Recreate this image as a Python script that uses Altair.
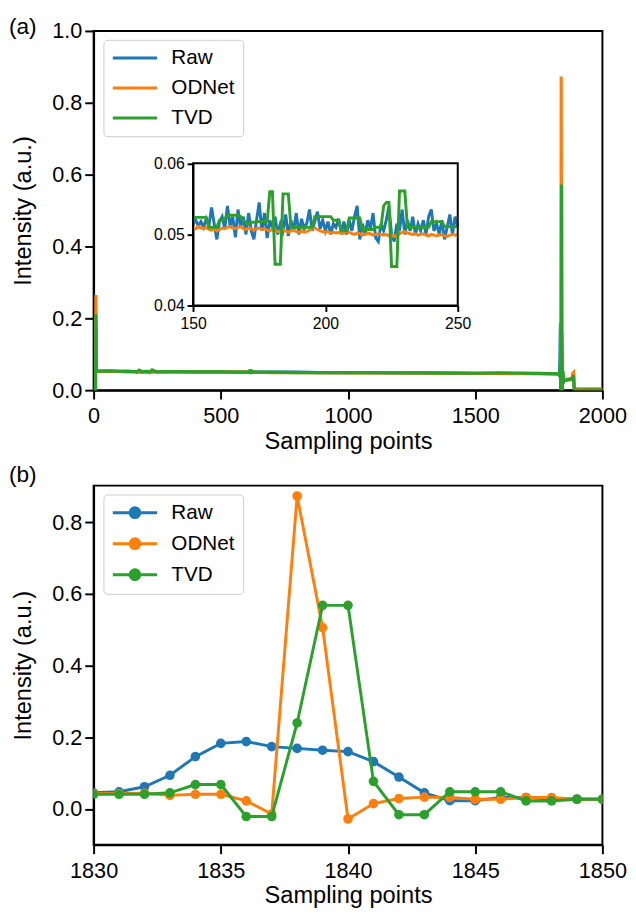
import altair as alt
import pandas as pd

SERIES = ["Raw", "ODNet", "TVD"]
COLORS = ["#1f77b4", "#ff7f0e", "#2ca02c"]
FONT = "Liberation Sans"

# ---- inset window, samples 150..250 ----
inset_x = list(range(150, 251))
inset_raw = [
    0.0515, 0.0520, 0.0512, 0.0518, 0.0510, 0.0522, 0.0512, 0.0538, 0.0515, 0.0493,
    0.0518, 0.0525, 0.0508, 0.0540, 0.0512, 0.0525, 0.0496, 0.0535, 0.0510, 0.0525,
    0.0500, 0.0530, 0.0505, 0.0493, 0.0520, 0.0545, 0.0505, 0.0530, 0.0495, 0.0520,
    0.0510, 0.0525, 0.0500, 0.0515, 0.0505, 0.0528, 0.0498, 0.0520, 0.0505, 0.0530,
    0.0500, 0.0522, 0.0508, 0.0516, 0.0535, 0.0505, 0.0518, 0.0532, 0.0508, 0.0520,
    0.0505, 0.0518, 0.0500, 0.0515, 0.0510, 0.0522, 0.0503, 0.0518, 0.0500, 0.0520,
    0.0505, 0.0525, 0.0540, 0.0493, 0.0515, 0.0500, 0.0520, 0.0508, 0.0530, 0.0495,
    0.0490, 0.0515, 0.0505, 0.0520, 0.0540, 0.0500, 0.0490, 0.0515, 0.0505, 0.0535,
    0.0500, 0.0520, 0.0505, 0.0525, 0.0500, 0.0515, 0.0505, 0.0520, 0.0500, 0.0525,
    0.0535, 0.0505, 0.0515, 0.0500, 0.0520, 0.0493, 0.0510, 0.0528, 0.0500, 0.0525,
    0.0512,
]
inset_odnet = [
    0.0510, 0.0508, 0.0511, 0.0509, 0.0508, 0.0510, 0.0507, 0.0506, 0.0508, 0.0505,
    0.0507, 0.0509, 0.0508, 0.0510, 0.0511, 0.0509, 0.0508, 0.0510, 0.0511, 0.0508,
    0.0507, 0.0509, 0.0508, 0.0506, 0.0508, 0.0509, 0.0507, 0.0508, 0.0506, 0.0505,
    0.0507, 0.0506, 0.0504, 0.0505, 0.0507, 0.0505, 0.0503, 0.0505, 0.0506, 0.0504,
    0.0503, 0.0505, 0.0503, 0.0504, 0.0506, 0.0508, 0.0509, 0.0507, 0.0505, 0.0504,
    0.0503, 0.0504, 0.0502, 0.0503, 0.0502, 0.0503, 0.0501, 0.0502, 0.0504, 0.0503,
    0.0501, 0.0500, 0.0502, 0.0501, 0.0499, 0.0500, 0.0502, 0.0501, 0.0499, 0.0500,
    0.0501, 0.0500, 0.0499, 0.0500, 0.0498, 0.0499, 0.0497, 0.0499, 0.0501, 0.0503,
    0.0504, 0.0502, 0.0501, 0.0500, 0.0501, 0.0499, 0.0500, 0.0501, 0.0499, 0.0498,
    0.0500, 0.0499, 0.0498, 0.0499, 0.0500, 0.0498, 0.0497, 0.0499, 0.0500, 0.0499,
    0.0500,
]
inset_tvd = [
    0.0524, 0.0524, 0.0524, 0.0524, 0.0524, 0.0524, 0.0510, 0.0510, 0.0510, 0.0510,
    0.0520, 0.0520, 0.0522, 0.0527, 0.0527, 0.0527, 0.0527, 0.0527, 0.0525, 0.0520,
    0.0515, 0.0515, 0.0517, 0.0517, 0.0518, 0.0518, 0.0518, 0.0518, 0.0518, 0.0560,
    0.0560, 0.0458, 0.0458, 0.0458, 0.0557, 0.0557, 0.0557, 0.0510, 0.0510, 0.0510,
    0.0510, 0.0510, 0.0510, 0.0510, 0.0510, 0.0510, 0.0525, 0.0525, 0.0525, 0.0525,
    0.0525, 0.0525, 0.0525, 0.0520, 0.0520, 0.0520, 0.0505, 0.0505, 0.0505, 0.0523,
    0.0523, 0.0523, 0.0523, 0.0523, 0.0507, 0.0507, 0.0507, 0.0507, 0.0507, 0.0510,
    0.0510, 0.0510, 0.0540, 0.0545, 0.0545, 0.0455, 0.0455, 0.0455, 0.0561, 0.0561,
    0.0561, 0.0510, 0.0510, 0.0510, 0.0510, 0.0510, 0.0510, 0.0510, 0.0510, 0.0510,
    0.0518, 0.0518, 0.0518, 0.0518, 0.0518, 0.0511, 0.0511, 0.0511, 0.0511, 0.0511,
    0.0511,
]

# ---- zoom window (panel b), samples 1830..1850 ----
zoom_x = list(range(1830, 1851))
zoom_raw = [0.045, 0.048, 0.062, 0.094, 0.146, 0.183, 0.188, 0.174, 0.169, 0.164,
            0.160, 0.132, 0.089, 0.045, 0.023, 0.023, 0.032, 0.032, 0.028, 0.028, 0.027]
zoom_odnet = [0.043, 0.043, 0.044, 0.038, 0.041, 0.041, 0.0225, -0.014, 0.873, 0.506,
              -0.028, 0.015, 0.029, 0.033, 0.032, 0.027, 0.027, 0.032, 0.032, 0.027, 0.027]
zoom_tvd = [0.041, 0.041, 0.041, 0.045, 0.068, 0.068, -0.021, -0.021, 0.240, 0.568,
            0.568, 0.077, -0.016, -0.016, 0.048, 0.048, 0.048, 0.0225, 0.0225, 0.027, 0.027]

# ---- remaining overview samples ----
head_x = [0, 7, 9, 11, 20, 50, 100, 130]
head_raw = [0.002, 0.002, 0.190, 0.054, 0.053, 0.054, 0.052, 0.053]
head_odnet = [0.000, 0.000, 0.265, 0.054, 0.052, 0.053, 0.052, 0.051]
head_tvd = [0.000, 0.000, 0.212, 0.054, 0.053, 0.053, 0.053, 0.052]

mid_x = [300, 400, 500, 560, 612, 615, 617, 620, 623, 700, 800, 900, 1000, 1100,
         1200, 1300, 1400, 1500, 1600, 1700, 1800, 1825]
mid_raw = [0.052, 0.051, 0.051, 0.050, 0.051, 0.052, 0.050, 0.051, 0.050, 0.050, 0.050,
           0.049, 0.049, 0.049, 0.048, 0.048, 0.048, 0.047, 0.047, 0.047, 0.046, 0.046]
mid_odnet = [0.051, 0.050, 0.050, 0.050, 0.050, 0.050, 0.050, 0.050, 0.050, 0.049, 0.049,
             0.049, 0.048, 0.048, 0.048, 0.047, 0.047, 0.047, 0.046, 0.046, 0.045, 0.045]
mid_tvd = [0.052, 0.051, 0.051, 0.050, 0.050, 0.058, 0.045, 0.057, 0.050, 0.050, 0.049,
           0.049, 0.049, 0.049, 0.048, 0.048, 0.047, 0.047, 0.048, 0.047, 0.046, 0.045]

tail_x = [1860, 1870, 1880, 1884, 1887, 1889, 1892, 1950, 2000]
tail_raw = [0.030, 0.031, 0.032, 0.035, 0.034, 0.010, 0.004, 0.003, 0.003]
tail_odnet = [0.030, 0.029, 0.034, 0.048, 0.050, 0.004, 0.002, 0.002, 0.002]
tail_tvd = [0.028, 0.030, 0.030, 0.038, 0.038, 0.000, 0.000, 0.001, 0.001]


def long_df(xs, cols):
    rows = []
    for s, vals in zip(SERIES, cols):
        for x, v in zip(xs, vals):
            rows.append({"x": x, "y": v, "series": s})
    return pd.DataFrame(rows)


# overview uses every 10th sample of the inset window (full detail is in the inset)
step = 10
main_x = head_x + inset_x[::step] + mid_x + zoom_x + tail_x
df_main = long_df(main_x, [
    head_raw + inset_raw[::step] + mid_raw + zoom_raw + tail_raw,
    head_odnet + inset_odnet[::step] + mid_odnet + zoom_odnet + tail_odnet,
    head_tvd + inset_tvd[::step] + mid_tvd + zoom_tvd + tail_tvd,
])
df_inset = long_df(inset_x, [inset_raw, inset_odnet, inset_tvd])
df_zoom = long_df(zoom_x, [zoom_raw, zoom_odnet, zoom_tvd])

W, H = 517, 365
color_scale = alt.Scale(domain=SERIES, range=COLORS)

legend_common = dict(
    title=None, orient="none", legendX=10, legendY=9, labelFont=FONT, labelFontSize=21,
    labelColor="black", padding=8, rowPadding=8.5, labelOffset=40, cornerRadius=4,
    strokeColor="#cccccc", fillColor="white", symbolStrokeWidth=3, symbolSize=324,
)
leg_a = alt.Legend(symbolType="M-1,0L4,0", **legend_common)
leg_b = alt.Legend(
    symbolType="M-1,0L4,0M2.05,0A0.55,0.55,0,1,1,0.95,0A0.55,0.55,0,1,1,2.05,0Z",
    **legend_common)

# ---------- panel (a) ----------
xa = alt.X("x:Q", scale=alt.Scale(domain=[0, 2000], nice=False),
           axis=alt.Axis(values=[0, 500, 1000, 1500, 2000], title="Sampling points",
                         labelFlush=False, format="d"))
ya = alt.Y("y:Q", scale=alt.Scale(domain=[0, 1], nice=False),
           axis=alt.Axis(values=[0, 0.2, 0.4, 0.6, 0.8, 1.0], format=".1f",
                         title="Intensity (a.u.)"))

main_layers = [
    alt.Chart(df_main[df_main.series == s]).mark_line(strokeWidth=3.2, clip=True).encode(
        x=xa, y=ya, color=alt.Color("series:N", scale=color_scale, legend=leg_a))
    for s in SERIES
]

xi = alt.X("x:Q", scale=alt.Scale(domain=[150, 250], range=[101, 370], nice=False),
           axis=alt.Axis(orient="bottom", offset=-86, values=[150, 200, 250], title=None,
                         labelFontSize=16, tickSize=6, labelFlush=False, format="d",
                         labelPadding=4))
yi = alt.Y("y:Q", scale=alt.Scale(domain=[0.04, 0.06], range=[279, 134.5], nice=False),
           axis=alt.Axis(orient="left", offset=-101, values=[0.04, 0.05, 0.06], title=None,
                         labelFontSize=16, tickSize=6, format=".2f", labelPadding=3))
inset_layers = [
    alt.Chart(df_inset[df_inset.series == s]).mark_line(strokeWidth=3).encode(
        x=xi, y=yi, color=alt.Color("series:N", scale=color_scale, legend=None))
    for s in SERIES
]
frame_df = pd.DataFrame({"k": [1]})
inset_frame = alt.Chart(frame_df).mark_rect(
    fillOpacity=0, stroke="black", strokeWidth=2).encode(
    x=alt.value(101), x2=alt.value(370), y=alt.value(134.5), y2=alt.value(279))

tag_a = alt.Chart(pd.DataFrame({"t": ["(a)"]})).mark_text(
    align="left", baseline="alphabetic", font=FONT, fontSize=23, color="black").encode(
    text="t:N", x=alt.value(-86), y=alt.value(3))

panel_a = alt.layer(
    alt.layer(*main_layers),
    alt.layer(*inset_layers),
    inset_frame,
    tag_a,
).resolve_scale(x="independent", y="independent").properties(width=W, height=H)

# ---------- panel (b) ----------
xb = alt.X("x:Q", scale=alt.Scale(domain=[1830, 1850], nice=False),
           axis=alt.Axis(values=[1830, 1835, 1840, 1845, 1850], title="Sampling points",
                         labelFlush=False, format="d"))
yb = alt.Y("y:Q", scale=alt.Scale(domain=[-0.1, 0.902], nice=False),
           axis=alt.Axis(values=[0, 0.2, 0.4, 0.6, 0.8], format=".1f",
                         title="Intensity (a.u.)"))
b_layers = []
for s in SERIES:
    d = df_zoom[df_zoom.series == s]
    b_layers.append(alt.Chart(d).mark_line(strokeWidth=3, clip=True).encode(
        x=xb, y=yb, color=alt.Color("series:N", scale=color_scale, legend=leg_b)))
    b_layers.append(alt.Chart(d).mark_circle(size=95, opacity=1, clip=True).encode(
        x=xb, y=yb, color=alt.Color("series:N", scale=color_scale, legend=leg_b)))

tag_b = alt.Chart(pd.DataFrame({"t": ["(b)"]})).mark_text(
    align="left", baseline="alphabetic", font=FONT, fontSize=23, color="black").encode(
    text="t:N", x=alt.value(-86), y=alt.value(-4))

panel_b = alt.layer(*b_layers, tag_b).properties(width=W, height=H)

chart = alt.vconcat(panel_a, panel_b, spacing=9).resolve_scale(
    color="independent").resolve_legend(color="independent").properties(
    padding={"left": 0, "top": 0, "right": 0, "bottom": 0}
).configure_view(stroke="black", strokeWidth=2).configure_axis(
    domainColor="black", domainWidth=2, tickColor="black", tickWidth=2, tickSize=9,
    labelColor="black", labelFont=FONT, labelFontSize=22,
    titleFont=FONT, titleFontSize=24, titleColor="black", titleFontWeight="normal",
    grid=False, labelOverlap=False,
).configure_axisY(titlePadding=17, labelPadding=3).configure_axisX(
    titlePadding=3, labelPadding=7)

chart.save("out.html", embed_options={"renderer": "svg", "actions": False})
